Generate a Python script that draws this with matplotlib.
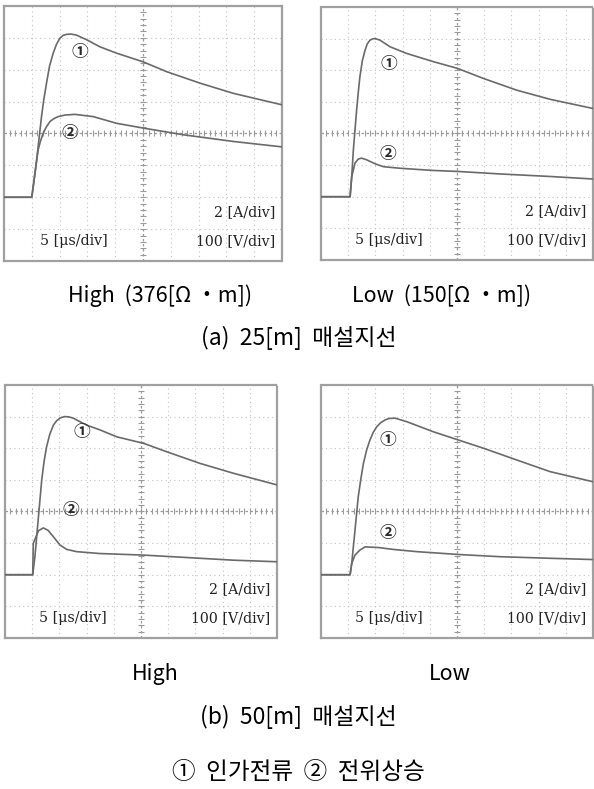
import matplotlib.pyplot as plt
import numpy as np

# =====================================================
# DATOS (divisiones del osciloscopio: x 0..10, y -4..4)
# =====================================================

# (a) 25[m], High
A_HIGH_X1 = [0, 1.0, 1.12, 1.23, 1.35, 1.43, 1.53, 1.64, 1.77, 1.89, 2.01, 2.13, 2.25, 2.4, 2.6, 3.0, 3.45, 4.05, 5.0, 5.85, 7.05, 8.25, 10.0]
A_HIGH_Y1 = [-2, -2, -1.24, -0.41, 0.53, 1.05, 1.58, 2.12, 2.52, 2.8, 2.99, 3.08, 3.11, 3.12, 3.09, 2.93, 2.72, 2.52, 2.25, 1.94, 1.58, 1.26, 0.9]
A_HIGH_X2 = [0, 1.0, 1.12, 1.23, 1.31, 1.41, 1.52, 1.65, 1.8, 1.95, 2.2, 2.55, 3.21, 4.05, 5.01, 6.45, 8.25, 10.0]
A_HIGH_Y2 = [-2, -2, -1.19, -0.51, -0.25, 0.01, 0.2, 0.37, 0.47, 0.53, 0.58, 0.6, 0.53, 0.32, 0.17, -0.04, -0.25, -0.42]

# (a) 25[m], Low
A_LOW_X1 = [0, 1.07, 1.13, 1.19, 1.31, 1.37, 1.43, 1.52, 1.62, 1.7, 1.8, 1.9, 1.99, 2.17, 2.54, 3.15, 4.13, 5.01, 5.97, 7.19, 8.42, 10.0]
A_LOW_Y1 = [-2, -2, -1.36, -0.52, 0.74, 1.3, 1.79, 2.3, 2.63, 2.83, 2.95, 2.99, 3.0, 2.95, 2.74, 2.53, 2.27, 2.06, 1.74, 1.37, 1.08, 0.79]
A_LOW_X2 = [0, 1.07, 1.13, 1.25, 1.37, 1.49, 1.67, 1.99, 2.29, 2.9, 4.13, 5.01, 6.58, 8.42, 10.0]
A_LOW_Y2 = [-2, -2, -1.36, -0.94, -0.81, -0.78, -0.83, -0.96, -1.05, -1.1, -1.17, -1.2, -1.28, -1.36, -1.44]

# (b) 50[m], High
B_HIGH_X1 = [0, 1.02, 1.1, 1.23, 1.35, 1.44, 1.53, 1.65, 1.78, 1.9, 2.02, 2.1, 2.2, 2.35, 2.51, 3.0, 3.49, 4.11, 5.11, 5.94, 7.17, 8.39, 10.0]
B_HIGH_Y1 = [-2, -2, -1.43, -0.17, 0.99, 1.6, 2.05, 2.45, 2.73, 2.87, 2.95, 2.98, 3.0, 2.99, 2.95, 2.73, 2.58, 2.36, 2.15, 1.89, 1.52, 1.21, 0.84]
B_HIGH_X2 = [0, 1.02, 1.04, 1.23, 1.41, 1.59, 1.78, 2.02, 2.27, 2.63, 3.49, 5.11, 6.56, 8.39, 10.0]
B_HIGH_Y2 = [-2, -2, -1.01, -0.61, -0.52, -0.6, -0.8, -1.06, -1.2, -1.27, -1.33, -1.38, -1.45, -1.54, -1.59]

# (b) 50[m], Low
B_LOW_X1 = [0, 1.07, 1.13, 1.25, 1.37, 1.46, 1.56, 1.68, 1.8, 1.92, 2.05, 2.2, 2.35, 2.5, 2.72, 3.15, 4.13, 5.05, 5.97, 7.19, 8.42, 10.0]
B_LOW_Y1 = [-2, -2, -1.64, -0.59, 0.47, 1.0, 1.52, 1.95, 2.26, 2.5, 2.68, 2.81, 2.89, 2.94, 2.95, 2.84, 2.52, 2.26, 2.0, 1.63, 1.26, 0.94]
B_LOW_X2 = [0, 1.07, 1.13, 1.25, 1.43, 1.62, 2.11, 2.66, 3.52, 5.05, 6.58, 8.42, 10.0]
B_LOW_Y2 = [-2, -2, -1.64, -1.38, -1.22, -1.12, -1.14, -1.2, -1.27, -1.36, -1.43, -1.48, -1.52]

# posiciones de las etiquetas ① y ② (en divisiones)
LABEL1_POS = [(2.73, 2.55), (2.48, 2.21), (2.82, 2.52), (2.47, 2.26)]
LABEL2_POS = [(2.37, 0.03), (2.44, -0.65), (2.41, 0.04), (2.44, -0.69)]

TIME_DIV = "5 [μs/div]"
CURR_DIV = "2 [A/div]"
VOLT_DIV = "100 [V/div]"

SUB_TOP = ["High  (376[Ω ・m])", "Low  (150[Ω ・m])"]
SUB_BOTTOM = ["High", "Low"]
CAPTION_A = "(a)  25[m]  매설지선"
CAPTION_B = "(b)  50[m]  매설지선"
LEGEND = "①  인가전류  ②  전위상승"

# =====================================================
# ESTILO
# =====================================================

TRACE_COLOR = "#6a6a6a"
GRID_COLOR = "#c4c4c4"
CENTER_COLOR = "#9a9a9a"
KR_FONT = ["Noto Sans CJK KR", "DejaVu Sans"]
SCOPE_FONT = "DejaVu Serif"

# posiciones de los ejes en fracción de figura (left, bottom, width, height)
AX_POS = [
    [0.0067, 0.6692, 0.468, 0.3232],
    [0.5404, 0.6705, 0.4579, 0.3207],
    [0.0084, 0.1914, 0.4579, 0.3207],
    [0.5404, 0.1914, 0.4579, 0.3207],
]


def draw_scope(ax, x1, y1, x2, y2, lab1, lab2):

    ax.set_xlim(0, 10)
    ax.set_ylim(-4, 4)
    ax.set_xticks([])
    ax.set_yticks([])

    # rejilla punteada
    for gx in range(1, 10):
        if gx == 5:
            continue
        ax.axvline(gx, color=GRID_COLOR, lw=0.8, ls=(0, (1, 3)), zorder=1)
    for gy in range(-3, 4):
        if gy == 0:
            continue
        ax.axhline(gy, color=GRID_COLOR, lw=0.8, ls=(0, (1, 3)), zorder=1)

    # ejes centrales con marcas pequeñas
    ax.axvline(5, color=CENTER_COLOR, lw=0.9, ls=(0, (2, 2)), zorder=1)
    ax.axhline(0, color=CENTER_COLOR, lw=0.9, ls=(0, (2, 2)), zorder=1)
    tx = np.arange(0, 10.01, 0.2)
    ty = np.arange(-4, 4.01, 0.2)
    ax.plot(tx, np.zeros_like(tx), ls="none", marker="|", ms=4, mew=0.8, color=CENTER_COLOR, zorder=1)
    ax.plot(np.full_like(ty, 5), ty, ls="none", marker="_", ms=4, mew=0.8, color=CENTER_COLOR, zorder=1)

    for sp in ax.spines.values():
        sp.set_color("#a0a0a0")
        sp.set_linewidth(1.6)
        sp.set_linestyle((0, (2, 1)))

    # trazas
    ax.plot(x1, y1, color=TRACE_COLOR, lw=1.2, zorder=3, solid_joinstyle="round")
    ax.plot(x2, y2, color=TRACE_COLOR, lw=1.2, zorder=3, solid_joinstyle="round")

    ax.text(lab1[0], lab1[1], "①", family=KR_FONT, fontsize=12, fontweight="bold",
            color="#2a2a2a", ha="center", va="center", zorder=4)
    ax.text(lab2[0], lab2[1], "②", family=KR_FONT, fontsize=12, fontweight="bold",
            color="#2a2a2a", ha="center", va="center", zorder=4)

    ax.text(9.75, -2.47, CURR_DIV, family=SCOPE_FONT, fontsize=10.2,
            color="#222222", ha="right", va="center", zorder=4)
    ax.text(9.75, -3.37, VOLT_DIV, family=SCOPE_FONT, fontsize=10.2,
            color="#222222", ha="right", va="center", zorder=4)
    ax.text(2.5, -3.37, TIME_DIV, family=SCOPE_FONT, fontsize=10.2,
            color="#222222", ha="center", va="center", zorder=4)


# =====================================================
# FIGURA
# =====================================================

fig = plt.figure(figsize=(5.94, 7.89), dpi=100)

traces = [
    (A_HIGH_X1, A_HIGH_Y1, A_HIGH_X2, A_HIGH_Y2),
    (A_LOW_X1, A_LOW_Y1, A_LOW_X2, A_LOW_Y2),
    (B_HIGH_X1, B_HIGH_Y1, B_HIGH_X2, B_HIGH_Y2),
    (B_LOW_X1, B_LOW_Y1, B_LOW_X2, B_LOW_Y2),
]

for idx, (x1, y1, x2, y2) in enumerate(traces):
    ax = fig.add_axes(AX_POS[idx])
    draw_scope(ax, x1, y1, x2, y2, LABEL1_POS[idx], LABEL2_POS[idx])

# textos inferiores
fig.text(0.269, 0.625, SUB_TOP[0], family=KR_FONT, fontsize=15.5, ha="center", va="center")
fig.text(0.744, 0.625, SUB_TOP[1], family=KR_FONT, fontsize=15.5, ha="center", va="center")
fig.text(0.503, 0.5716, CAPTION_A, family=KR_FONT, fontsize=16.5, ha="center", va="center")

fig.text(0.261, 0.146, SUB_BOTTOM[0], family=KR_FONT, fontsize=15.5, ha="center", va="center")
fig.text(0.758, 0.146, SUB_BOTTOM[1], family=KR_FONT, fontsize=15.5, ha="center", va="center")
fig.text(0.503, 0.0913, CAPTION_B, family=KR_FONT, fontsize=16.5, ha="center", va="center")

fig.text(0.503, 0.0203, LEGEND, family=KR_FONT, fontsize=17, ha="center", va="center")

plt.savefig("out.png", dpi=100)
plt.close()
